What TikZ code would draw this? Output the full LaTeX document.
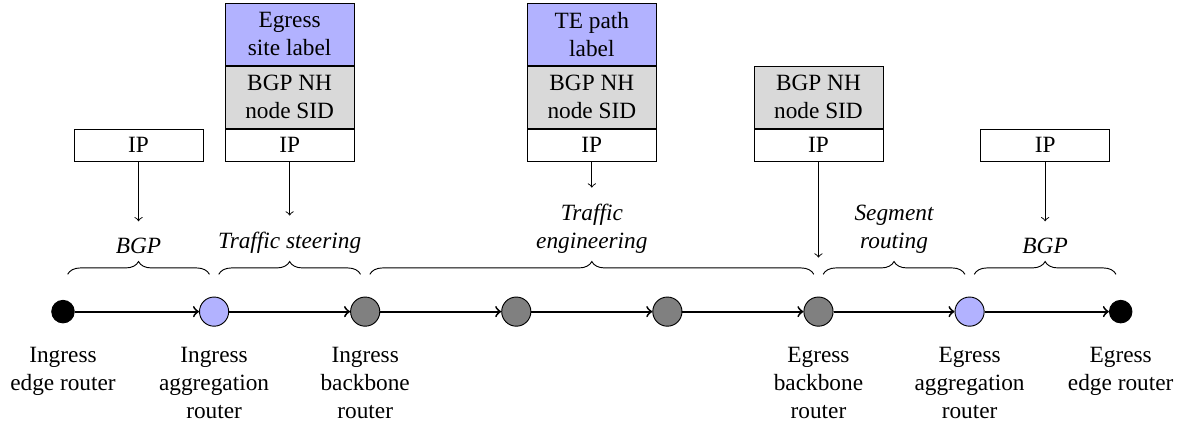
\documentclass[tikz,border=0pt]{standalone}
\usepackage{fontspec}
\setmainfont{Liberation Serif}
\usetikzlibrary{positioning,decorations.pathreplacing}

\begin{document}
\begin{tikzpicture}[node distance=2.279cm, thick,
    router/.style={circle,draw,thin,minimum size=0.44cm,inner sep=0pt},
    edge router/.style={router,fill=black,minimum size=0.34cm},
    agg router/.style={router,fill=blue!30},
    core router/.style={router,fill=gray},
    router label/.style={align=center},
    hdr/.style={draw,thin,minimum width=1.946cm,inner sep=0pt,align=center},
    ip hdr/.style={hdr,minimum height=0.483cm},
    sid hdr/.style={hdr,fill=gray!30,minimum height=0.935cm},
    top hdr/.style={hdr,fill=blue!30,minimum height=0.935cm},
    span/.style={thin,decorate,decoration={brace,amplitude=5.5pt}},
    span label/.style={midway,above=5.5pt,align=center,font=\itshape},
    push/.style={thin,->,shorten >=3.5pt}]
            \useasboundingbox (0,0) rectangle (17.843,-6.425);

            % routers along the path
            \node[edge router] (r1) at (0.950,-4.70) {};
            \node[agg router] (r2) [right of=r1] {};
            \node[core router] (r3) [right of=r2] {};
            \node[core router] (r4) [right of=r3] {};
            \node[core router] (r5) [right of=r4] {};
            \node[core router] (r6) [right of=r5] {};
            \node[agg router] (r7) [right of=r6] {};
            \node[edge router] (r8) [right of=r7] {};

            \node[router label, below=0.4cm of r1.center] (l1) {Ingress\\edge router};
            \node[router label, below=0.4cm of r2.center] (l2) {Ingress\\aggregation\\router};
            \node[router label, below=0.4cm of r3.center] (l3) {Ingress\\backbone\\router};
            \node[router label, below=0.4cm of r6.center] (l6) {Egress\\backbone\\router};
            \node[router label, below=0.4cm of r7.center] (l7) {Egress\\aggregation\\router};
            \node[router label, below=0.4cm of r8.center] (l8) {Egress\\edge router};

            \draw[->] (r1) -- (r2);
            \draw[->] (r2) -- (r3);
            \draw[->] (r3) -- (r4);
            \draw[->] (r4) -- (r5);
            \draw[->] (r5) -- (r6);
            \draw[->] (r6) -- (r7);
            \draw[->] (r7) -- (r8);

            % braces
            \draw[span] ([shift={(2pt,16pt)}]r1.center) -- ([shift={(-2pt,16pt)}]r2.center)
                node[span label] (b1) {BGP};
            \draw[span] ([shift={(2pt,16pt)}]r2.center) -- ([shift={(-2pt,16pt)}]r3.center)
                node[span label] (b2) {Traffic steering};
            \draw[span] ([shift={(2pt,16pt)}]r3.center) -- ([shift={(-2pt,16pt)}]r6.center)
                node[span label] (b3) {Traffic\\engineering};
            \draw[span] ([shift={(2pt,16pt)}]r6.center) -- ([shift={(-2pt,16pt)}]r7.center)
                node[span label] (b4) {Segment\\routing};
            \draw[span] ([shift={(2pt,16pt)}]r7.center) -- ([shift={(-2pt,16pt)}]r8.center)
                node[span label] (b5) {BGP};

            % label stacks
            \node[ip hdr] (ip1) at (2.0895,-2.187) {IP};
            \node[ip hdr] (ip2) at (4.3685,-2.187) {IP};
            \node[sid hdr, above=0pt of ip2] (sid2) {BGP NH\\node SID};
            \node[top hdr, above=0pt of sid2] (top2) {Egress\\site label};
            \node[ip hdr] (ip3) at (8.9265,-2.187) {IP};
            \node[sid hdr, above=0pt of ip3] (sid3) {BGP NH\\node SID};
            \node[top hdr, above=0pt of sid3] (top3) {TE path\\label};
            \node[ip hdr] (ip4) at (12.345,-2.187) {IP};
            \node[sid hdr, above=0pt of ip4] (sid4) {BGP NH\\node SID};
            \node[ip hdr] (ip5) at (15.7635,-2.187) {IP};

            \coordinate (t6) at ([yshift=0.815cm]r6.center);
            \draw[push] (ip1.south) -- (ip1.south |- b1.north);
            \draw[push] (ip2.south) -- (ip2.south |- b2.north);
            \draw[push] (ip3.south) -- (ip3.south |- b3.north);
            \draw[thin,->] (ip4.south) -- (t6);
            \draw[push] (ip5.south) -- (ip5.south |- b5.north);
        \end{tikzpicture}
\end{document}
